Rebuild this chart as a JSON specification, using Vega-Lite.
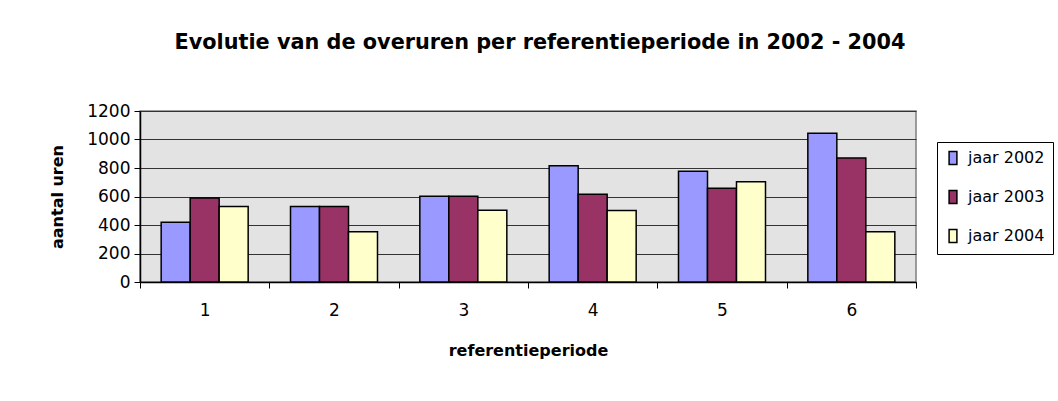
{
  "$schema": "https://vega.github.io/schema/vega-lite/v6.json",
  "width": 776,
  "height": 171,
  "autosize": {"type": "none"},
  "padding": {"left": 140, "top": 111, "right": 142, "bottom": 119},
  "background": "white",
  "title": {
    "text": "Evolutie van de overuren per referentieperiode in 2002 - 2004",
    "font": "DejaVu Sans",
    "fontSize": 20.8,
    "fontWeight": "bold",
    "color": "black",
    "anchor": "middle",
    "frame": "group",
    "dx": 12,
    "offset": 48
  },
  "data": {
    "values": [
      {"periode": "1", "jaar": "jaar 2002", "uren": 420},
      {"periode": "1", "jaar": "jaar 2003", "uren": 590},
      {"periode": "1", "jaar": "jaar 2004", "uren": 530},
      {"periode": "2", "jaar": "jaar 2002", "uren": 530},
      {"periode": "2", "jaar": "jaar 2003", "uren": 530},
      {"periode": "2", "jaar": "jaar 2004", "uren": 352},
      {"periode": "3", "jaar": "jaar 2002", "uren": 602},
      {"periode": "3", "jaar": "jaar 2003", "uren": 602},
      {"periode": "3", "jaar": "jaar 2004", "uren": 504},
      {"periode": "4", "jaar": "jaar 2002", "uren": 815},
      {"periode": "4", "jaar": "jaar 2003", "uren": 616},
      {"periode": "4", "jaar": "jaar 2004", "uren": 501},
      {"periode": "5", "jaar": "jaar 2002", "uren": 778},
      {"periode": "5", "jaar": "jaar 2003", "uren": 658},
      {"periode": "5", "jaar": "jaar 2004", "uren": 703},
      {"periode": "6", "jaar": "jaar 2002", "uren": 1043},
      {"periode": "6", "jaar": "jaar 2003", "uren": 870},
      {"periode": "6", "jaar": "jaar 2004", "uren": 352}
    ]
  },
  "mark": {"type": "bar", "stroke": "black", "strokeWidth": 1.5},
  "encoding": {
    "x": {
      "field": "periode",
      "type": "nominal",
      "scale": {"paddingInner": 0, "paddingOuter": 0},
      "axis": {
        "title": "referentieperiode",
        "titleFont": "DejaVu Sans",
        "titleFontSize": 16,
        "titleFontWeight": "bold",
        "titleColor": "black",
        "titlePadding": 24,
        "labelAngle": 0,
        "labelFont": "DejaVu Sans",
        "labelFontSize": 17,
        "labelColor": "black",
        "labelPadding": 14,
        "tickBand": "extent",
        "tickSize": 6,
        "tickColor": "black",
        "domainColor": "black",
        "domainWidth": 1.5,
        "grid": false
      }
    },
    "xOffset": {
      "field": "jaar",
      "type": "nominal",
      "scale": {"paddingInner": 0, "paddingOuter": 0.73}
    },
    "y": {
      "field": "uren",
      "type": "quantitative",
      "scale": {"domain": [0, 1200], "nice": false},
      "axis": {
        "title": "aantal uren",
        "titleFont": "DejaVu Sans",
        "titleFontSize": 16,
        "titleFontWeight": "bold",
        "titleColor": "black",
        "titlePadding": 21,
        "values": [0, 200, 400, 600, 800, 1000, 1200],
        "format": "d",
        "labelFont": "DejaVu Sans",
        "labelFontSize": 17,
        "labelColor": "black",
        "labelPadding": 4,
        "tickSize": 6,
        "tickColor": "black",
        "domainColor": "black",
        "domainWidth": 1.5,
        "grid": true,
        "gridColor": "#333333",
        "gridWidth": 1
      }
    },
    "color": {
      "field": "jaar",
      "type": "nominal",
      "scale": {
        "domain": ["jaar 2002", "jaar 2003", "jaar 2004"],
        "range": ["#9999FF", "#993366", "#FFFFCC"]
      },
      "legend": {
        "title": null,
        "orient": "none",
        "legendX": 797,
        "legendY": 31,
        "symbolType": "M-0.6,-1H0.6V1H-0.6Z",
        "symbolSize": 169,
        "symbolStrokeColor": "black",
        "symbolStrokeWidth": 1.5,
        "labelFont": "DejaVu Sans",
        "labelFontSize": 16,
        "labelColor": "black",
        "labelOffset": 7,
        "rowPadding": 19,
        "padding": 8,
        "strokeColor": "black",
        "fillColor": "white"
      }
    }
  },
  "config": {
    "view": {"fill": "#E3E3E3", "stroke": "#808080", "strokeWidth": 1.5}
  }
}
